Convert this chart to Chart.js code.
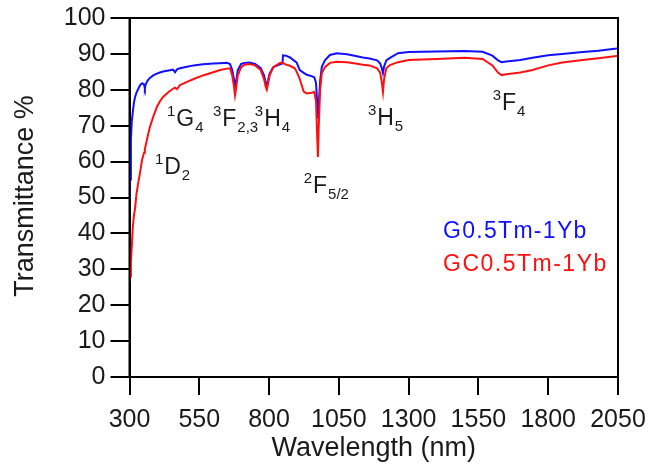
<!DOCTYPE html>
<html>
<head>
<meta charset="utf-8">
<script src="https://cdn.jsdelivr.net/npm/chart.js@4.4.1/dist/chart.umd.min.js"></script>
<style>
  html, body { margin: 0; padding: 0; background: #fff; }
  #wrap { width: 649px; height: 469px; }
</style>
</head>
<body>
<div id="wrap"><canvas id="spectrum"></canvas></div>
<script>
// wavelength grid (nm) shared by both spectra
const wavelength = [300, 302, 305, 308, 312, 316, 320, 325, 330, 338, 345, 352, 355, 358, 365, 373, 385, 398, 409, 420,
  440, 456, 463, 470, 481, 506, 530, 563, 600, 624, 649, 660, 668, 674, 678, 682, 688, 700, 713, 730,
  750, 770, 782, 788, 792, 796, 802, 815, 839, 848, 850, 860, 875, 892, 899, 910, 924, 935, 952, 962,
  968, 972, 975, 978, 983, 989, 1000, 1018, 1043, 1079, 1110, 1136, 1160, 1187, 1198, 1204, 1208, 1212, 1220, 1233,
  1262, 1300, 1400, 1500, 1565, 1600, 1620, 1633, 1650, 1700, 1744, 1800, 1850, 1923, 1980, 2045, 2050];

// transmittance (%) of the glass
const transG = [49, 55, 66, 71, 74, 76.5, 78, 79.2, 80, 81.3, 81.8, 81.5, 80.5, 81.5, 82.6, 83.3, 84, 84.5, 84.8, 85.1,
  85.4, 85.6, 84.9, 85.7, 86, 86.4, 86.8, 87.1, 87.3, 87.4, 87.5, 87.2, 85.5, 83, 80.9, 82.5, 85.5, 87.2, 87.5, 87.6,
  87.2, 86, 84, 82, 81.3, 82.5, 84.5, 86.3, 87.1, 87.3, 89.6, 89.5, 89, 88, 87.6, 85.5, 84.7, 84.2, 83.8, 83.5,
  82, 77, 72, 76, 82.5, 86.4, 88.2, 89.7, 90.2, 89.9, 89.4, 89, 88.7, 88.2, 87.3, 86, 84.7, 86.5, 88.2, 88.9,
  90.2, 90.5, 90.7, 90.8, 90.6, 89.5, 88.2, 87.7, 87.9, 88.3, 88.9, 89.6, 90, 90.5, 90.9, 91.5, 91.6];

// transmittance (%) of the glass-ceramic
const transGC = [26.5, 28, 32, 36, 42, 45, 47, 51, 53.5, 57, 60.5, 62.5, 63.5, 64.5, 67, 69.6, 72.5, 75.2, 76.8, 78,
  79.4, 80.3, 80.6, 80.2, 81.3, 82.2, 83, 84, 84.9, 85.5, 85.9, 86, 84, 81, 78.5, 80.5, 84, 86.3, 87, 87.2,
  86.8, 85.5, 83, 80.8, 80, 81.5, 84, 86.3, 87.5, 87.6, 87.5, 87, 86.7, 86, 85, 83, 79.5, 79, 79.2, 79.4,
  77, 68, 61.3, 70, 80, 84.7, 86.3, 87.5, 87.8, 87.7, 87.3, 87, 86.8, 86, 84.8, 82, 79.4, 83, 86, 86.9,
  87.7, 88.3, 88.6, 88.9, 88.6, 86.8, 84.8, 84.1, 84.3, 84.8, 85.5, 86.8, 87.6, 88.3, 88.8, 89.4, 89.4];

const xTicks = [300, 550, 800, 1050, 1300, 1550, 1800, 2050];
const seriesNames = ['G0.5Tm-1Yb', 'GC0.5Tm-1Yb'];

// Tm3+/Yb3+ absorption bands: superscript, term, subscript, anchor (nm, %)
const bands = [
  { sup: '1', term: 'G', sub: '4', nm: 434, t: 70 },
  { sup: '3', term: 'F', sub: '2,3', nm: 599, t: 70 },
  { sup: '3', term: 'H', sub: '4', nm: 749, t: 70 },
  { sup: '1', term: 'D', sub: '2', nm: 391, t: 56.5 },
  { sup: '2', term: 'F', sub: '5/2', nm: 924, t: 51.3 },
  { sup: '3', term: 'H', sub: '5', nm: 1154, t: 70.2 },
  { sup: '3', term: 'F', sub: '4', nm: 1601, t: 74.4 }
];

const FONT = '"Liberation Sans", Arial, sans-serif';
const BLUE = '#1010ff';
const RED = '#ff1010';

const toPoints = (ys) => wavelength.map((w, i) => ({ x: w, y: ys[i] }));

const overlay = {
  id: 'overlay',
  afterDraw(chart) {
    const { ctx, chartArea: a, scales: { x, y } } = chart;
    ctx.save();

    // closed frame
    ctx.strokeStyle = '#000';
    ctx.lineWidth = 2;
    ctx.strokeRect(a.left, a.top, a.right - a.left, a.bottom - a.top);

    // band labels
    ctx.fillStyle = '#1a1a1a';
    ctx.textAlign = 'left';
    ctx.textBaseline = 'alphabetic';
    bands.forEach(b => {
      let px = x.getPixelForValue(b.nm);
      const py = y.getPixelForValue(b.t);
      ctx.font = '15px ' + FONT;
      ctx.fillText(b.sup, px, py - 10);
      px += ctx.measureText(b.sup).width + 1;
      ctx.font = '23px ' + FONT;
      ctx.fillText(b.term, px, py);
      px += ctx.measureText(b.term).width + 1;
      ctx.font = '15px ' + FONT;
      ctx.fillText(b.sub, px, py + 6);
    });

    // legend
    ctx.font = '23px ' + FONT;
    ctx.letterSpacing = '1.3px';
    ctx.fillStyle = BLUE;
    ctx.fillText(seriesNames[0], 443, 238);
    ctx.letterSpacing = '1.5px';
    ctx.fillStyle = RED;
    ctx.fillText(seriesNames[1], 443, 271);
    ctx.letterSpacing = '0px';

    // axis titles
    ctx.fillStyle = '#1a1a1a';
    ctx.font = '27px ' + FONT;
    ctx.textAlign = 'center';
    ctx.fillText('Wavelength (nm)', (a.left + a.right) / 2, 456);
    ctx.translate(33, 196);
    ctx.rotate(-Math.PI / 2);
    ctx.fillText('Transmittance %', 0, 0);

    ctx.restore();
  }
};

new Chart(document.getElementById('spectrum'), {
  type: 'line',
  data: {
    datasets: [
      { label: seriesNames[1], data: toPoints(transGC), borderColor: RED, borderWidth: 2, pointRadius: 0, tension: 0 },
      { label: seriesNames[0], data: toPoints(transG), borderColor: BLUE, borderWidth: 2, pointRadius: 0, tension: 0 }
    ]
  },
  options: {
    responsive: true,
    maintainAspectRatio: false,
    animation: false,
    layout: { padding: { top: 18, right: 31, left: 0, bottom: 0 } },
    plugins: { legend: { display: false }, tooltip: { enabled: false } },
    scales: {
      x: {
        type: 'linear',
        min: 300,
        max: 2050,
        afterBuildTicks: (s) => { s.ticks = xTicks.map(v => ({ value: v })); },
        afterFit: (s) => { s.height = 92; s.paddingLeft = 0; s.paddingRight = 0; },
        ticks: {
          color: '#1a1a1a', font: { family: FONT, size: 25 }, padding: 10, maxRotation: 0, autoSkip: false,
          callback: (v) => String(v)
        },
        grid: { drawOnChartArea: false, tickLength: 18, color: '#000', lineWidth: 2 },
        border: { color: '#000', width: 2 }
      },
      y: {
        min: 0,
        max: 100,
        ticks: { stepSize: 10, color: '#1a1a1a', font: { family: FONT, size: 25 }, padding: 5 },
        afterFit: (s) => { s.width = 129.5; s.paddingTop = 0; s.paddingBottom = 0; },
        grid: { drawOnChartArea: false, tickLength: 19, color: '#000', lineWidth: 2 },
        border: { color: '#000', width: 2 }
      }
    }
  },
  plugins: [overlay]
});
</script>
</body>
</html>
